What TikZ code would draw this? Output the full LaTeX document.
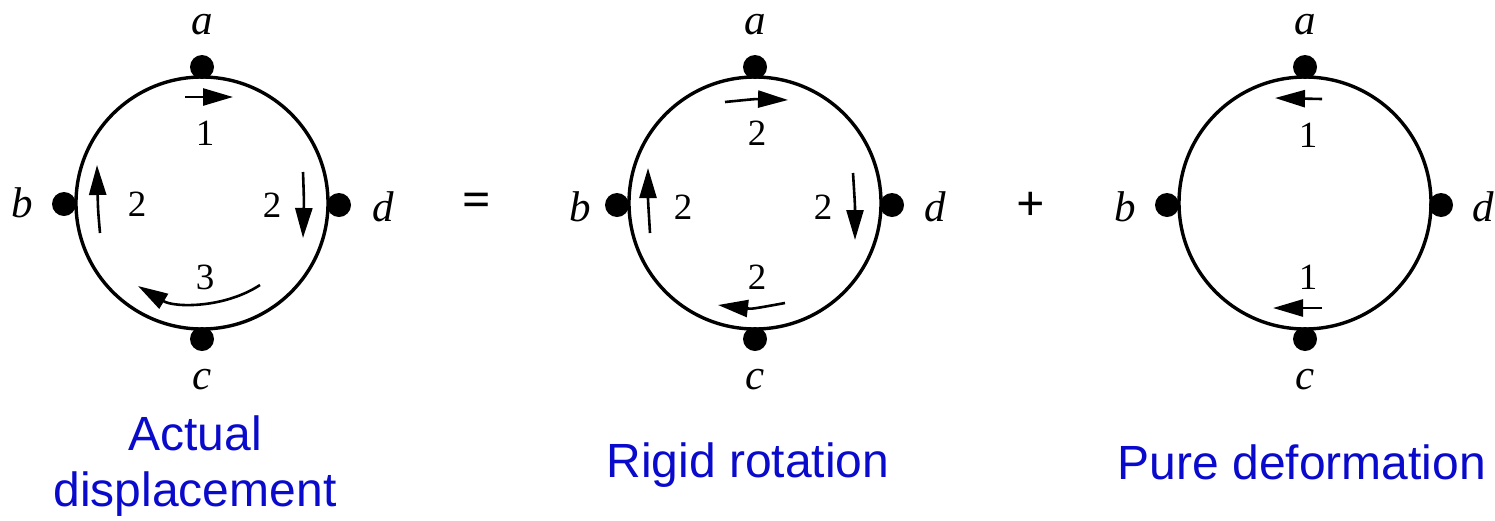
\documentclass[tikz,border=0pt]{standalone}
\usepackage{fontspec}
\setmainfont{Liberation Serif}
\newfontfamily\capfont{Liberation Sans}
\usetikzlibrary{arrows.meta}
\definecolor{capblue}{RGB}{10,10,205}
\begin{document}
\begin{tikzpicture}[x=1pt,y=-1pt,
  ring/.style={circle,draw,line width=3.4pt,minimum size=252pt,inner sep=0pt},
  pin/.style={circle,fill,minimum size=24pt,inner sep=0pt},
  letter/.style={font=\fontsize{43}{43}\selectfont\itshape,inner sep=0pt},
  num/.style={font=\fontsize{37}{37}\selectfont,inner sep=0pt},
  sign/.style={font=\fontsize{50}{50}\selectfont\bfseries,inner sep=0pt},
  disp/.style={line width=2.6pt,-{Triangle[length=30pt,width=17pt]}},
  captext/.style={font=\capfont\fontsize{48}{56}\selectfont,text=capblue,align=center,inner sep=0pt}]
\useasboundingbox (0,0) rectangle (1495,520);

% ---------- panel 1 : actual displacement ----------
\node[ring] (r1) at (202,203) {};
\node[pin] (a1p) at (202,67) {};
\node[pin] (b1p) at (64,204) {};
\node[pin] (c1p) at (202,339) {};
\node[pin] (d1p) at (339,205) {};
\node[letter] (a1) at (202,25) {a};
\node[letter] (b1) at (22,203) {b};
\node[letter] (c1) at (202,380) {c};
\node[letter] (d1) at (383,207) {d};
\draw[disp] (185,97) -- (233,97);
\draw[disp] (100,233) .. controls (98,210) .. (97,165);
\draw[disp] (303,172) .. controls (304,200) .. (303,238);
\draw[disp] (260,285) .. controls (225,308) and (175,308) .. (138,286);
\node[num] (n1t) at (205,133) {1};
\node[num] (n1l) at (137,204) {2};
\node[num] (n1r) at (272,205) {2};
\node[num] (n1b) at (205,277) {3};

\node[sign] (eq) at (477,205) {=};

% ---------- panel 2 : rigid rotation ----------
\node[ring] (r2) at (755,203) {};
\node[pin] (a2p) at (755,67) {};
\node[pin] (b2p) at (617,205) {};
\node[pin] (c2p) at (755,339) {};
\node[pin] (d2p) at (892,205) {};
\node[letter] (a2) at (755,25) {a};
\node[letter] (b2) at (580,207) {b};
\node[letter] (c2) at (755,380) {c};
\node[letter] (d2) at (935,207) {d};
\draw[disp] (725,102) .. controls (755,99) .. (788,100);
\draw[disp] (650,233) .. controls (648,200) .. (648,168);
\draw[disp] (853,173) .. controls (855,205) .. (855,240);
\draw[disp] (785,303) .. controls (752,309) .. (718,305);
\node[num] (n2t) at (757,133) {2};
\node[num] (n2l) at (683,207) {2};
\node[num] (n2r) at (823,207) {2};
\node[num] (n2b) at (757,277) {2};

\node[sign] (plus) at (1031,206) {+};

% ---------- panel 3 : pure deformation ----------
\node[ring] (r3) at (1305,203) {};
\node[pin] (a3p) at (1305,67) {};
\node[pin] (b3p) at (1167,205) {};
\node[pin] (c3p) at (1305,339) {};
\node[pin] (d3p) at (1441,205) {};
\node[letter] (a3) at (1305,25) {a};
\node[letter] (b3) at (1125,207) {b};
\node[letter] (c3) at (1305,380) {c};
\node[letter] (d3) at (1483,207) {d};
\draw[disp] (1322,99) -- (1275,98);
\draw[disp] (1322,308) -- (1273,308);
\node[num] (n3t) at (1308,135) {1};
\node[num] (n3b) at (1308,277) {1};

% ---------- captions ----------
\node[captext] (t1) at (195,466) {Actual\\displacement};
\node[captext] (t2) at (748,465) {Rigid rotation};
\node[captext] (t3) at (1302,462) {Pure deformation};
\end{tikzpicture}
\end{document}
